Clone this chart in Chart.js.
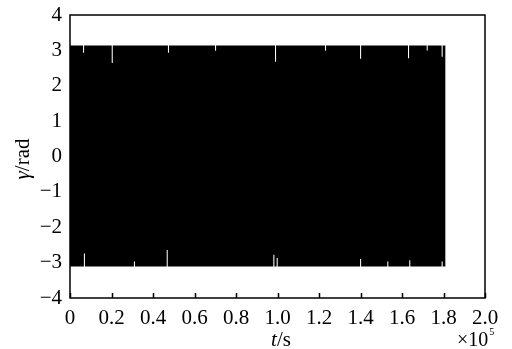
<!DOCTYPE html>
<html>
<head>
<meta charset="utf-8">
<script src="https://cdn.jsdelivr.net/npm/chart.js@4.4.1/dist/chart.umd.min.js"></script>
<style>
html, body { margin: 0; padding: 0; background: #fff; }
#wrap { width: 512px; height: 349px; }
</style>
</head>
<body>
<div id="wrap"><canvas id="myChart"></canvas></div>
<script>
// tick values (x in units of 1e5 s)
const xTicks = [0, 0.2, 0.4, 0.6, 0.8, 1.0, 1.2, 1.4, 1.6, 1.8, 2.0];
const yTicks = [-4, -3, -2, -1, 0, 1, 2, 3, 4];

// envelope of the oscillating signal
const tEnd = 1.81;
const topLevel = 3.14;
const bottomLevel = -3.11;
// white notches on the upper edge
const topDipT = [0.063, 0.201, 0.472, 0.699, 0.988, 1.229, 1.398, 1.629, 1.719, 1.791];
const topDipV = [2.93, 2.64, 2.93, 2.99, 2.68, 2.99, 2.76, 2.78, 3.0, 2.82];
// white notches on the lower edge
const bottomDipT = [0.067, 0.308, 0.466, 0.980, 0.996, 1.398, 1.529, 1.635, 1.791];
const bottomDipV = [-2.74, -2.97, -2.64, -2.78, -2.87, -2.9, -2.97, -2.93, -2.97];
const dipWidth = 0.005;

function envelope(level, dipT, dipV, tLast) {
    const pts = [{x: 0, y: level}];
    dipT.forEach(function(t, i) {
        pts.push({x: t, y: dipV[i]});
        pts.push({x: t + dipWidth, y: level});
    });
    pts.push({x: tLast, y: level});
    return pts;
}

const serif = '"Liberation Serif", "Times New Roman", serif';

// frame, inward ticks and axis titles
const decor = {
    id: 'decor',
    afterDraw: function(chart) {
        const ctx = chart.ctx;
        const a = chart.chartArea;
        const xs = chart.scales.x;
        ctx.save();
        ctx.strokeStyle = '#000';
        ctx.lineWidth = 1.5;
        ctx.strokeRect(a.left, a.top, a.right - a.left, a.bottom - a.top);
        ctx.beginPath();
        xs.ticks.forEach(function(t) {
            const px = Math.round(xs.getPixelForValue(t.value)) + 0.5;
            ctx.moveTo(px, a.bottom);
            ctx.lineTo(px, a.bottom - 5);
        });
        ctx.stroke();

        ctx.fillStyle = '#000';
        ctx.textBaseline = 'alphabetic';
        ctx.textAlign = 'left';
        // x title: t/s
        ctx.font = 'italic 21px ' + serif;
        const w1 = ctx.measureText('t').width;
        ctx.font = '21px ' + serif;
        const w2 = ctx.measureText('/s').width;
        let x0 = 281 - (w1 + w2) / 2;
        ctx.font = 'italic 21px ' + serif;
        ctx.fillText('t', x0, 346);
        ctx.font = '21px ' + serif;
        ctx.fillText('/s', x0 + w1, 346);
        // x10^5
        ctx.font = '20px ' + serif;
        const wx = ctx.measureText('\u00d710').width;
        ctx.fillText('\u00d710', 457, 346);
        ctx.font = '10px ' + serif;
        ctx.fillText('5', 457 + wx + 1, 335);

        // y title: gamma/rad
        ctx.translate(22, 159);
        ctx.rotate(-Math.PI / 2);
        ctx.font = 'italic 21px ' + serif;
        const g1 = ctx.measureText('\u03b3').width;
        ctx.font = '21px ' + serif;
        const g2 = ctx.measureText('/rad').width;
        x0 = -(g1 + g2) / 2;
        ctx.font = 'italic 21px ' + serif;
        ctx.fillText('\u03b3', x0, 7);
        ctx.font = '21px ' + serif;
        ctx.fillText('/rad', x0 + g1, 7);
        ctx.restore();
    }
};

const ctx = document.getElementById('myChart').getContext('2d');
const myChart = new Chart(ctx, {
    type: 'line',
    data: {
        datasets: [
            {
                // below the lower edge: white
                data: envelope(bottomLevel, bottomDipT, bottomDipV, xTicks[xTicks.length - 1]),
                stepped: true,
                fill: 'start',
                backgroundColor: '#fff',
                borderColor: 'rgba(0,0,0,0)',
                borderWidth: 0,
                pointRadius: 0,
                order: 0
            },
            {
                // signal band: black
                data: envelope(topLevel, topDipT, topDipV, tEnd),
                stepped: true,
                fill: 'start',
                backgroundColor: '#000',
                borderColor: 'rgba(0,0,0,0)',
                borderWidth: 0,
                pointRadius: 0,
                order: 1
            }
        ]
    },
    options: {
        responsive: true,
        maintainAspectRatio: false,
        animation: false,
        layout: { padding: { top: 15, right: 27, left: 0, bottom: 0 } },
        plugins: {
            legend: { display: false },
            tooltip: { enabled: false }
        },
        scales: {
            x: {
                type: 'linear',
                min: 0,
                max: 2.0,
                afterBuildTicks: function(s) { s.ticks = xTicks.map(function(v) { return {value: v}; }); },
                afterFit: function(s) { s.height = 51; s.paddingLeft = 0; s.paddingRight = 0; },
                grid: { display: false, drawTicks: false },
                border: { display: false },
                ticks: {
                    padding: 8,
                    color: '#000',
                    maxRotation: 0,
                    autoSkip: false,
                    font: { family: serif, size: 21 },
                    callback: function(v) { return v === 0 ? '0' : v.toFixed(1); }
                }
            },
            y: {
                min: -4,
                max: 4,
                afterBuildTicks: function(s) { s.ticks = yTicks.map(function(v) { return {value: v}; }); },
                afterFit: function(s) { s.width = 70; s.paddingTop = 0; s.paddingBottom = 0; },
                grid: { display: false, drawTicks: false },
                border: { display: false },
                ticks: {
                    padding: 8,
                    color: '#000',
                    autoSkip: false,
                    font: { family: serif, size: 21 },
                    callback: function(v) { return v < 0 ? '\u2212' + Math.abs(v) : String(v); }
                }
            }
        }
    },
    plugins: [decor]
});
</script>
</body>
</html>
